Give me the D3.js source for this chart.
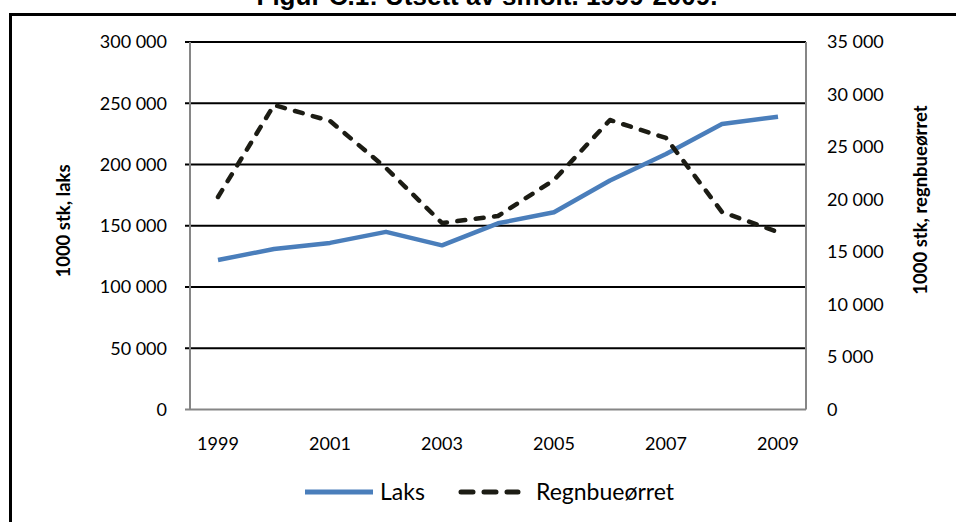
<!DOCTYPE html>
<html lang="no">
<head>
<meta charset="utf-8">
<script src="https://cdn.jsdelivr.net/npm/d3@7"></script>
<style>
  html, body { margin: 0; padding: 0; background: #fff; }
  svg { display: block; }
  .tittel { font-family: "Liberation Sans", Arial, sans-serif; font-weight: bold; font-size: 26px; }
  .tick-tekst { font-family: Lato, "Open Sans", sans-serif; font-size: 18px; fill: #000; }
  .akse-tittel { font-family: Lato, "Open Sans", sans-serif; font-weight: bold; font-size: 18.5px; fill: #000; }
  .legende-tekst { font-family: Lato, "Open Sans", sans-serif; font-size: 23px; fill: #000; }
</style>
</head>
<body>
<div id="chart"></div>
<script>
const aar = ["1999", "2000", "2001", "2002", "2003", "2004", "2005", "2006", "2007", "2008", "2009"];
const aarEtiketter = ["1999", "2001", "2003", "2005", "2007", "2009"];

// 1000 stk, venstre akse
const laks = [122000, 131000, 136000, 145000, 134000, 152000, 161000, 187000, 208500, 233000, 239000];
// 1000 stk, høyre akse
const regnbueorret = [20240, 29000, 27480, 23000, 17760, 18430, 21860, 27570, 25860, 18810, 16900];

const venstreTicks = [0, 50000, 100000, 150000, 200000, 250000, 300000];
const hoyreTicks = [0, 5000, 10000, 15000, 20000, 25000, 30000, 35000];

const BLAA = "#4a7ebb";
const SVART = "#1c1c14";
const GRAA = "#868686";

const width = 956;
const height = 522;
const plot = { left: 190, right: 806, top: 42, bottom: 409.5 };

const formatTall = v => d3.format(",")(v).replace(/,/g, " ");

const svg = d3.select("#chart").append("svg")
  .attr("width", width)
  .attr("height", height)
  .attr("viewBox", [0, 0, width, height]);

// tittel (delvis kuttet i toppen, som i originalen)
svg.append("text")
  .attr("class", "tittel")
  .attr("x", 487)
  .attr("y", 5)
  .attr("text-anchor", "middle")
  .text("Figur C.1: Utsett av smolt. 1999-2009.");

// ramme rundt diagrammet
svg.append("rect")
  .attr("x", 10.5)
  .attr("y", 14.5)
  .attr("width", 1000)
  .attr("height", 600)
  .attr("fill", "none")
  .attr("stroke", "#000")
  .attr("stroke-width", 3);

const x = d3.scaleBand()
  .domain(aar)
  .range([plot.left, plot.right])
  .padding(0);

const yV = d3.scaleLinear().domain([0, 300000]).range([plot.bottom, plot.top]);
const yH = d3.scaleLinear().domain([0, 35000]).range([plot.bottom, plot.top]);

const xMidt = d => x(d) + x.bandwidth() / 2;

// rutenett
svg.append("g")
  .selectAll("line")
  .data(venstreTicks.filter(d => d > 0))
  .join("line")
  .attr("x1", plot.left - 5)
  .attr("x2", plot.right)
  .attr("y1", d => yV(d))
  .attr("y2", d => yV(d))
  .attr("stroke", "#000")
  .attr("stroke-width", 2);

// akselinjer
const akser = svg.append("g").attr("stroke", GRAA).attr("stroke-width", 2);
akser.append("line").attr("x1", plot.left).attr("x2", plot.left).attr("y1", plot.top).attr("y2", plot.bottom);
akser.append("line").attr("x1", plot.right).attr("x2", plot.right).attr("y1", plot.top).attr("y2", plot.bottom);
akser.append("line").attr("x1", plot.left - 5).attr("x2", plot.right).attr("y1", plot.bottom).attr("y2", plot.bottom);

// venstre etiketter
svg.append("g")
  .selectAll("text")
  .data(venstreTicks)
  .join("text")
  .attr("class", "tick-tekst")
  .attr("x", 167)
  .attr("y", d => yV(d))
  .attr("dy", "0.35em")
  .attr("text-anchor", "end")
  .text(formatTall);

// høyre etiketter
svg.append("g")
  .selectAll("text")
  .data(hoyreTicks)
  .join("text")
  .attr("class", "tick-tekst")
  .attr("x", 827)
  .attr("y", d => yH(d))
  .attr("dy", "0.35em")
  .attr("text-anchor", "start")
  .text(formatTall);

// år
svg.append("g")
  .selectAll("text")
  .data(aarEtiketter)
  .join("text")
  .attr("class", "tick-tekst")
  .attr("x", d => xMidt(d))
  .attr("y", 444)
  .attr("dy", "0.35em")
  .attr("text-anchor", "middle")
  .text(d => d);

// aksetitler
svg.append("text")
  .attr("class", "akse-tittel")
  .attr("transform", "translate(64,221) rotate(-90)")
  .attr("text-anchor", "middle")
  .attr("dy", "0.35em")
  .text("1000 stk, laks");

svg.append("text")
  .attr("class", "akse-tittel")
  .attr("transform", "translate(921,200) rotate(-90)")
  .attr("text-anchor", "middle")
  .attr("dy", "0.35em")
  .text("1000 stk, regnbueørret");

// serier
const linjeV = d3.line().x((d, i) => xMidt(aar[i])).y(d => yV(d));
const linjeH = d3.line().x((d, i) => xMidt(aar[i])).y(d => yH(d));

svg.append("path")
  .datum(laks)
  .attr("d", linjeV)
  .attr("fill", "none")
  .attr("stroke", BLAA)
  .attr("stroke-width", 4.5)
  .attr("stroke-linejoin", "round");

svg.append("path")
  .datum(regnbueorret)
  .attr("d", linjeH)
  .attr("fill", "none")
  .attr("stroke", SVART)
  .attr("stroke-width", 4.5)
  .attr("stroke-linecap", "round")
  .attr("stroke-linejoin", "round")
  .attr("stroke-dasharray", "8,10.5");

// legende
const legY = 492;
const legende = svg.append("g");
legende.append("line")
  .attr("x1", 305).attr("x2", 373)
  .attr("y1", legY).attr("y2", legY)
  .attr("stroke", BLAA).attr("stroke-width", 5);
legende.append("text")
  .attr("class", "legende-tekst")
  .attr("x", 380).attr("y", legY).attr("dy", "0.35em")
  .text("Laks");
legende.append("line")
  .attr("x1", 461).attr("x2", 518)
  .attr("y1", legY).attr("y2", legY)
  .attr("stroke", SVART).attr("stroke-width", 5)
  .attr("stroke-linecap", "round")
  .attr("stroke-dasharray", "12,11");
legende.append("text")
  .attr("class", "legende-tekst")
  .attr("x", 536).attr("y", legY).attr("dy", "0.35em")
  .text("Regnbueørret");
</script>
</body>
</html>
